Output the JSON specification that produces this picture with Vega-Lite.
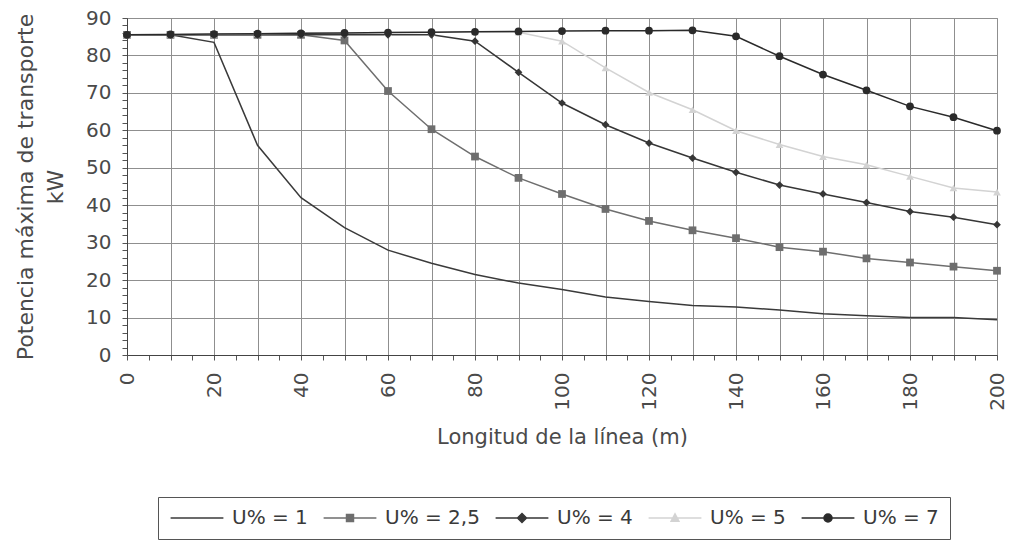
{
  "$schema": "https://vega.github.io/schema/vega-lite/v6.json",
  "width": 870,
  "height": 337,
  "autosize": {"type": "none"},
  "padding": {"left": 127, "top": 18, "right": 14, "bottom": 193},
  "background": "white",
  "config": {
    "view": {"stroke": "#8a8a8a", "strokeWidth": 1},
    "font": "DejaVu Sans"
  },
  "datasets": {
    "d": [
      {"L":0,"s":"U% = 1","P":85.5},{"L":10,"s":"U% = 1","P":85.5},{"L":20,"s":"U% = 1","P":83.5},{"L":30,"s":"U% = 1","P":56},{"L":40,"s":"U% = 1","P":42},{"L":50,"s":"U% = 1","P":34},{"L":60,"s":"U% = 1","P":28},{"L":70,"s":"U% = 1","P":24.5},{"L":80,"s":"U% = 1","P":21.5},{"L":90,"s":"U% = 1","P":19.2},{"L":100,"s":"U% = 1","P":17.5},{"L":110,"s":"U% = 1","P":15.5},{"L":120,"s":"U% = 1","P":14.3},{"L":130,"s":"U% = 1","P":13.2},{"L":140,"s":"U% = 1","P":12.8},{"L":150,"s":"U% = 1","P":12},{"L":160,"s":"U% = 1","P":11},{"L":170,"s":"U% = 1","P":10.5},{"L":180,"s":"U% = 1","P":10},{"L":190,"s":"U% = 1","P":10},{"L":200,"s":"U% = 1","P":9.4},
      {"L":0,"s":"U% = 2,5","P":85.5},{"L":10,"s":"U% = 2,5","P":85.5},{"L":20,"s":"U% = 2,5","P":85.5},{"L":30,"s":"U% = 2,5","P":85.5},{"L":40,"s":"U% = 2,5","P":85.5},{"L":50,"s":"U% = 2,5","P":84},{"L":60,"s":"U% = 2,5","P":70.5},{"L":70,"s":"U% = 2,5","P":60.3},{"L":80,"s":"U% = 2,5","P":53},{"L":90,"s":"U% = 2,5","P":47.3},{"L":100,"s":"U% = 2,5","P":43},{"L":110,"s":"U% = 2,5","P":39},{"L":120,"s":"U% = 2,5","P":35.8},{"L":130,"s":"U% = 2,5","P":33.3},{"L":140,"s":"U% = 2,5","P":31.2},{"L":150,"s":"U% = 2,5","P":28.8},{"L":160,"s":"U% = 2,5","P":27.6},{"L":170,"s":"U% = 2,5","P":25.8},{"L":180,"s":"U% = 2,5","P":24.7},{"L":190,"s":"U% = 2,5","P":23.6},{"L":200,"s":"U% = 2,5","P":22.5},
      {"L":0,"s":"U% = 4","P":85.5},{"L":10,"s":"U% = 4","P":85.5},{"L":20,"s":"U% = 4","P":85.5},{"L":30,"s":"U% = 4","P":85.5},{"L":40,"s":"U% = 4","P":85.5},{"L":50,"s":"U% = 4","P":85.5},{"L":60,"s":"U% = 4","P":85.5},{"L":70,"s":"U% = 4","P":85.5},{"L":80,"s":"U% = 4","P":83.8},{"L":90,"s":"U% = 4","P":75.5},{"L":100,"s":"U% = 4","P":67.3},{"L":110,"s":"U% = 4","P":61.5},{"L":120,"s":"U% = 4","P":56.6},{"L":130,"s":"U% = 4","P":52.6},{"L":140,"s":"U% = 4","P":48.8},{"L":150,"s":"U% = 4","P":45.4},{"L":160,"s":"U% = 4","P":43},{"L":170,"s":"U% = 4","P":40.7},{"L":180,"s":"U% = 4","P":38.3},{"L":190,"s":"U% = 4","P":36.8},{"L":200,"s":"U% = 4","P":34.8},
      {"L":0,"s":"U% = 5","P":85.5},{"L":10,"s":"U% = 5","P":85.6},{"L":20,"s":"U% = 5","P":85.7},{"L":30,"s":"U% = 5","P":85.8},{"L":40,"s":"U% = 5","P":85.9},{"L":50,"s":"U% = 5","P":86},{"L":60,"s":"U% = 5","P":86.1},{"L":70,"s":"U% = 5","P":86.2},{"L":80,"s":"U% = 5","P":86.3},{"L":90,"s":"U% = 5","P":86.2},{"L":100,"s":"U% = 5","P":83.8},{"L":110,"s":"U% = 5","P":76.7},{"L":120,"s":"U% = 5","P":70.1},{"L":130,"s":"U% = 5","P":65.5},{"L":140,"s":"U% = 5","P":59.9},{"L":150,"s":"U% = 5","P":56.2},{"L":160,"s":"U% = 5","P":53},{"L":170,"s":"U% = 5","P":50.8},{"L":180,"s":"U% = 5","P":47.7},{"L":190,"s":"U% = 5","P":44.6},{"L":200,"s":"U% = 5","P":43.5},
      {"L":0,"s":"U% = 7","P":85.5},{"L":10,"s":"U% = 7","P":85.6},{"L":20,"s":"U% = 7","P":85.7},{"L":30,"s":"U% = 7","P":85.8},{"L":40,"s":"U% = 7","P":85.9},{"L":50,"s":"U% = 7","P":86},{"L":60,"s":"U% = 7","P":86.1},{"L":70,"s":"U% = 7","P":86.2},{"L":80,"s":"U% = 7","P":86.3},{"L":90,"s":"U% = 7","P":86.4},{"L":100,"s":"U% = 7","P":86.5},{"L":110,"s":"U% = 7","P":86.6},{"L":120,"s":"U% = 7","P":86.6},{"L":130,"s":"U% = 7","P":86.7},{"L":140,"s":"U% = 7","P":85.1},{"L":150,"s":"U% = 7","P":79.8},{"L":160,"s":"U% = 7","P":74.9},{"L":170,"s":"U% = 7","P":70.7},{"L":180,"s":"U% = 7","P":66.4},{"L":190,"s":"U% = 7","P":63.5},{"L":200,"s":"U% = 7","P":59.9}
    ]
  },
  "data": {"name": "d"},
  "encoding": {
    "x": {
      "field": "L", "type": "quantitative",
      "scale": {"domain": [0, 200], "nice": false, "zero": false},
      "axis": {
        "values": [0,5,10,15,20,25,30,35,40,45,50,55,60,65,70,75,80,85,90,95,100,105,110,115,120,125,130,135,140,145,150,155,160,165,170,175,180,185,190,195,200],
        "labelExpr": "datum.value % 20 === 0 ? datum.label : ''",
        "labelAngle": 270,
        "labelAlign": "right",
        "labelBaseline": "middle",
        "labelFontSize": 20,
        "labelColor": "#4a4a4a",
        "labelPadding": 12,
        "labelOverlap": false,
        "labelFlush": false,
        "tickSize": 5,
        "tickColor": "#555",
        "domainColor": "#444",
        "grid": true,
        "gridColor": "#8f8f8f",
        "gridOpacity": {"condition": {"test": "datum.value % 10 === 0", "value": 1}, "value": 0},
        "title": "Longitud de la línea (m)",
        "titleFontSize": 21,
        "titleFontWeight": "normal",
        "titleColor": "#4a4a4a",
        "titlePadding": 16
      }
    },
    "y": {
      "field": "P", "type": "quantitative",
      "scale": {"domain": [0, 90], "nice": false},
      "axis": {
        "values": [0,2,4,6,8,10,12,14,16,18,20,22,24,26,28,30,32,34,36,38,40,42,44,46,48,50,52,54,56,58,60,62,64,66,68,70,72,74,76,78,80,82,84,86,88,90],
        "labelExpr": "datum.value % 10 === 0 ? datum.label : ''",
        "labelFontSize": 20,
        "labelColor": "#4a4a4a",
        "labelPadding": 11,
        "labelOverlap": false,
        "tickSize": 5,
        "tickColor": "#555",
        "domainColor": "#444",
        "grid": true,
        "gridColor": "#8f8f8f",
        "gridOpacity": {"condition": {"test": "datum.value % 10 === 0", "value": 1}, "value": 0},
        "title": ["Potencia máxima de transporte", "kW"],
        "titleFontSize": 22,
        "titleFontWeight": "normal",
        "titleColor": "#4a4a4a",
        "titleLineHeight": 30,
        "titlePadding": 18
      }
    },
    "color": {
      "field": "s", "type": "nominal",
      "scale": {
        "domain": ["U% = 1", "U% = 2,5", "U% = 4", "U% = 5", "U% = 7"],
        "range": ["#3a3a3a", "#6e6e6e", "#363636", "#d3d3d3", "#2a2a2a"]
      },
      "legend": {
        "orient": "none",
        "legendX": 31,
        "legendY": 479,
        "direction": "horizontal",
        "columns": 5,
        "title": null,
        "strokeColor": "#555",
        "fillColor": "white",
        "padding": 11,
        "columnPadding": 12,
        "symbolOffset": 18,
        "labelOffset": 25,
        "labelFontSize": 20,
        "labelColor": "#3a3a3a",
        "symbolSize": 144,
        "symbolStrokeWidth": 1.5,
        "encode": {
          "symbols": {
            "update": {
              "shape": {"signal": "datum.value === 'U% = 1' ? 'M-4.4,0H4.4' : datum.value === 'U% = 2,5' ? 'M-4.4,0H4.4M-0.58,-0.58H0.58V0.58H-0.58Z' : datum.value === 'U% = 4' ? 'M-4.4,0H4.4M0,-0.75L0.75,0L0,0.75L-0.75,0Z' : datum.value === 'U% = 5' ? 'M-4.4,0H4.4M0,-0.7L0.65,0.55L-0.65,0.55Z' : 'M-4.4,0H4.4M0.67,0A0.67,0.67,0,1,1,-0.67,0A0.67,0.67,0,1,1,0.67,0Z'"},
              "fill": {"signal": "scale('color', datum.value)"},
              "stroke": {"signal": "scale('color', datum.value)"},
              "strokeWidth": {"value": 1.5},
              "opacity": {"value": 1}
            }
          }
        }
      }
    }
  },
  "layer": [
    {"mark": {"type": "line", "strokeWidth": 1.5}},
    {
      "transform": [{"filter": "datum.s !== 'U% = 1'"}],
      "mark": {"type": "point", "filled": true, "opacity": 1, "size": 60},
      "encoding": {
        "shape": {
          "field": "s", "type": "nominal",
          "scale": {"domain": ["U% = 2,5", "U% = 4", "U% = 5", "U% = 7"], "range": ["square", "diamond", "triangle-up", "circle"]},
          "legend": null
        }
      }
    }
  ]
}
